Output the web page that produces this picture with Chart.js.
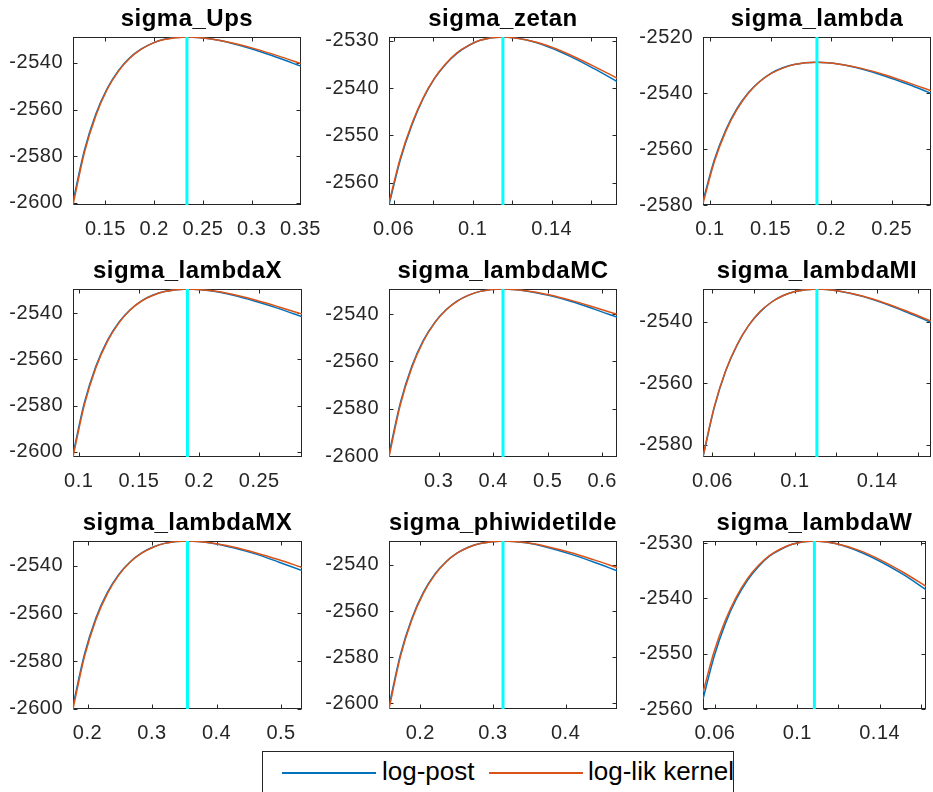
<!DOCTYPE html>
<html>
<head>
<meta charset="utf-8">
<script src="https://cdn.jsdelivr.net/npm/chart.js@4.4.1/dist/chart.umd.min.js"></script>
<style>
html, body { margin: 0; padding: 0; background: #ffffff; width: 933px; height: 792px; overflow: hidden; position: relative; }
canvas { position: absolute; }
#legend { position: absolute; left: 262px; top: 751px; width: 472px; height: 60px; border: 1px solid #262626; box-sizing: border-box; background: #ffffff; }
#legend .ln { position: absolute; height: 1.5px; top: 20px; }
#legend .tx { position: absolute; top: 6px; font-family: 'Liberation Sans', Arial, sans-serif; font-size: 26px; line-height: 26px; color: #000; white-space: nowrap; }
</style>
</head>
<body>
<div id="legend">
  <div class="ln" style="left:19px;width:94px;background:#0072BD"></div>
  <div class="tx" style="left:119px">log-post</div>
  <div class="ln" style="left:226px;width:94px;background:#D95319"></div>
  <div class="tx" style="left:325px">log-lik kernel</div>
</div>
<script>
// ---------------- data ----------------
const titles = ['sigma_Ups', 'sigma_zetan', 'sigma_lambda', 'sigma_lambdaX', 'sigma_lambdaMC', 'sigma_lambdaMI', 'sigma_lambdaMX', 'sigma_phiwidetilde', 'sigma_lambdaW'];
const modes = [0.2336, 0.1153, 0.1883, 0.1903, 0.418, 0.1107, 0.355, 0.3138, 0.1083];
const yMins = [-2600.9, -2564.7, -2580, -2602.3, -2600.4, -2583.9, -2600.1, -2602.5, -2560];
const yMaxs = [-2528.9, -2529.2, -2520, -2529.5, -2529.4, -2529.4, -2529.6, -2529.6, -2529.6];

const xUps   = [0.1168, 0.1285, 0.1402, 0.1518, 0.1635, 0.1752, 0.1869, 0.1986, 0.2102, 0.2336, 0.2570, 0.2803, 0.3037, 0.3270, 0.3504];
const postUps = [-2599.4, -2577.4, -2561.9, -2551.0, -2543.2, -2537.7, -2534.0, -2531.5, -2529.9, -2528.9, -2529.7, -2531.7, -2534.5, -2537.8, -2541.4];
const likUps  = [-2600.9, -2578.4, -2562.6, -2551.4, -2543.5, -2537.9, -2534.1, -2531.5, -2530.0, -2528.9, -2529.6, -2531.5, -2534.0, -2537.0, -2540.3];

const xZetan   = [0.0577, 0.0634, 0.0692, 0.0749, 0.0807, 0.0865, 0.0922, 0.0980, 0.1038, 0.1153, 0.1268, 0.1384, 0.1499, 0.1614, 0.1730];
const postZetan = [-2564.7, -2555.2, -2547.9, -2542.3, -2538.0, -2534.9, -2532.6, -2531.0, -2529.9, -2529.2, -2529.8, -2531.3, -2533.4, -2535.9, -2538.6];
const likZetan  = [-2564.2, -2554.8, -2547.6, -2542.1, -2537.9, -2534.8, -2532.5, -2531.0, -2529.9, -2529.2, -2529.8, -2531.1, -2533.1, -2535.4, -2537.9];

const xLambda   = [0.0942, 0.1036, 0.1130, 0.1224, 0.1318, 0.1412, 0.1506, 0.1601, 0.1695, 0.1883, 0.2071, 0.2260, 0.2448, 0.2636, 0.2825];
const postLambda = [-2578.5, -2563.8, -2553.2, -2545.4, -2539.8, -2535.8, -2532.9, -2531.0, -2529.8, -2529.0, -2529.7, -2531.5, -2534.0, -2536.9, -2540.1];
const likLambda  = [-2579.5, -2564.5, -2553.7, -2545.8, -2540.0, -2535.9, -2533.0, -2531.1, -2529.8, -2529.0, -2529.7, -2531.3, -2533.6, -2536.3, -2539.2];

const xLambdaX   = [0.0952, 0.1047, 0.1142, 0.1237, 0.1332, 0.1427, 0.1522, 0.1618, 0.1713, 0.1903, 0.2093, 0.2284, 0.2474, 0.2664, 0.2855];
const postLambdaX = [-2601.0, -2578.7, -2563.0, -2551.9, -2544.0, -2538.5, -2534.6, -2532.1, -2530.6, -2529.5, -2530.3, -2532.2, -2534.9, -2538.0, -2541.5];
const likLambdaX  = [-2602.3, -2579.6, -2563.6, -2552.3, -2544.3, -2538.6, -2534.7, -2532.2, -2530.6, -2529.5, -2530.2, -2531.9, -2534.4, -2537.3, -2540.4];

const xLambdaMC   = [0.2090, 0.2299, 0.2508, 0.2717, 0.2926, 0.3135, 0.3344, 0.3553, 0.3762, 0.4180, 0.4598, 0.5016, 0.5434, 0.5852, 0.6270];
const postLambdaMC = [-2599.2, -2577.4, -2562.1, -2551.2, -2543.6, -2538.2, -2534.4, -2532.0, -2530.4, -2529.4, -2530.2, -2532.1, -2534.7, -2537.9, -2541.3];
const likLambdaMC  = [-2600.4, -2578.2, -2562.7, -2551.6, -2543.8, -2538.3, -2534.5, -2532.0, -2530.4, -2529.4, -2530.1, -2531.8, -2534.2, -2537.1, -2540.1];

const xLambdaMI   = [0.0554, 0.0609, 0.0664, 0.0720, 0.0775, 0.0830, 0.0886, 0.0941, 0.0996, 0.1107, 0.1218, 0.1328, 0.1439, 0.1550, 0.1661];
const postLambdaMI = [-2583.9, -2567.8, -2556.0, -2547.5, -2541.3, -2536.9, -2533.7, -2531.6, -2530.3, -2529.4, -2530.1, -2531.8, -2534.2, -2537.1, -2540.2];
const likLambdaMI  = [-2583.6, -2567.5, -2555.9, -2547.4, -2541.3, -2536.8, -2533.7, -2531.6, -2530.3, -2529.4, -2530.1, -2531.7, -2534.0, -2536.8, -2539.8];

const xLambdaMX   = [0.1775, 0.1953, 0.2130, 0.2308, 0.2485, 0.2663, 0.2840, 0.3018, 0.3195, 0.3550, 0.3905, 0.4260, 0.4615, 0.4970, 0.5325];
const postLambdaMX = [-2598.6, -2577.1, -2561.9, -2551.2, -2543.6, -2538.3, -2534.6, -2532.1, -2530.6, -2529.6, -2530.4, -2532.4, -2535.1, -2538.5, -2542.0];
const likLambdaMX  = [-2600.1, -2578.1, -2562.6, -2551.7, -2543.9, -2538.4, -2534.7, -2532.2, -2530.6, -2529.6, -2530.3, -2532.1, -2534.6, -2537.5, -2540.7];

const xPhi   = [0.1569, 0.1726, 0.1883, 0.2040, 0.2197, 0.2354, 0.2510, 0.2667, 0.2824, 0.3138, 0.3452, 0.3766, 0.4079, 0.4393, 0.4707];
const postPhi = [-2601.2, -2578.9, -2563.2, -2552.0, -2544.1, -2538.6, -2534.8, -2532.2, -2530.7, -2529.6, -2530.4, -2532.5, -2535.4, -2538.8, -2542.5];
const likPhi  = [-2602.5, -2579.8, -2563.8, -2552.4, -2544.4, -2538.7, -2534.8, -2532.3, -2530.7, -2529.6, -2530.3, -2532.2, -2534.7, -2537.8, -2541.1];

const xLambdaW   = [0.0542, 0.0596, 0.0650, 0.0704, 0.0758, 0.0812, 0.0866, 0.0921, 0.0975, 0.1083, 0.1191, 0.1300, 0.1408, 0.1516, 0.1625];
const postLambdaW = [-2558.2, -2550.5, -2544.6, -2540.1, -2536.7, -2534.2, -2532.3, -2531.1, -2530.2, -2529.6, -2530.1, -2531.5, -2533.4, -2535.7, -2538.4];
const likLambdaW  = [-2557.0, -2549.6, -2544.0, -2539.7, -2536.4, -2534.0, -2532.2, -2531.0, -2530.2, -2529.6, -2530.1, -2531.3, -2533.1, -2535.3, -2537.8];

// tick marks and tick labels
const xTicksAll = [
  [0.15, 0.2, 0.25, 0.3, 0.35],
  [0.06, 0.08, 0.1, 0.12, 0.14, 0.16],
  [0.1, 0.15, 0.2, 0.25],
  [0.1, 0.15, 0.2, 0.25],
  [0.3, 0.4, 0.5, 0.6],
  [0.06, 0.08, 0.1, 0.12, 0.14, 0.16],
  [0.2, 0.3, 0.4, 0.5],
  [0.2, 0.3, 0.4],
  [0.06, 0.08, 0.1, 0.12, 0.14, 0.16]
];
const xTickLabels = [
  [0.15, 0.2, 0.25, 0.3, 0.35],
  [0.06, 0.1, 0.14],
  [0.1, 0.15, 0.2, 0.25],
  [0.1, 0.15, 0.2, 0.25],
  [0.3, 0.4, 0.5, 0.6],
  [0.06, 0.1, 0.14],
  [0.2, 0.3, 0.4, 0.5],
  [0.2, 0.3, 0.4],
  [0.06, 0.1, 0.14]
];
const yTicksAll = [
  [-2600, -2580, -2560, -2540],
  [-2560, -2550, -2540, -2530],
  [-2580, -2560, -2540, -2520],
  [-2600, -2580, -2560, -2540],
  [-2600, -2580, -2560, -2540],
  [-2580, -2560, -2540],
  [-2600, -2580, -2560, -2540],
  [-2600, -2580, -2560, -2540],
  [-2560, -2550, -2540, -2530]
];

const xs = [xUps, xZetan, xLambda, xLambdaX, xLambdaMC, xLambdaMI, xLambdaMX, xPhi, xLambdaW];
const posts = [postUps, postZetan, postLambda, postLambdaX, postLambdaMC, postLambdaMI, postLambdaMX, postPhi, postLambdaW];
const liks = [likUps, likZetan, likLambda, likLambdaX, likLambdaMC, likLambdaMI, likLambdaMX, likPhi, likLambdaW];

// ---------------- layout ----------------
const plotLeft = [73, 389, 703];
const plotW = [229, 228, 228];
const plotTop = [37, 289, 541];
const plotH = 168;
const Y_AXIS_W = 73, TITLE_H = 37, X_AXIS_H = 40, TICK = 4;
const FONT = "'Liberation Sans', Arial, Helvetica, sans-serif";
const AX = '#262626';

const spacingPlugin = { id: 'spacing', beforeDraw(chart) { chart.ctx.letterSpacing = '0.5px'; } };
const framePlugin = {
  id: 'frame',
  beforeDatasetsDraw(chart) {
    const ctx = chart.ctx, a = chart.chartArea, xs_ = chart.scales.x, ys_ = chart.scales.y;
    ctx.save();
    ctx.strokeStyle = AX; ctx.lineWidth = 1;
    const L = Math.round(a.left) + 0.5, R = Math.round(a.right) - 0.5, T = Math.round(a.top) + 0.5, B = Math.round(a.bottom) - 0.5;
    ctx.strokeRect(L, T, R - L, B - T);
    ctx.beginPath();
    xs_.ticks.forEach(t => {
      const px = Math.round(xs_.getPixelForValue(t.value)) + 0.5;
      ctx.moveTo(px, B); ctx.lineTo(px, B - TICK);
      ctx.moveTo(px, T); ctx.lineTo(px, T + TICK);
    });
    ys_.ticks.forEach(t => {
      const py = Math.round(ys_.getPixelForValue(t.value)) + 0.5;
      ctx.moveTo(L, py); ctx.lineTo(L + TICK, py);
      ctx.moveTo(R, py); ctx.lineTo(R - TICK, py);
    });
    ctx.stroke();
    ctx.restore();
  }
};

function makePanel(i) {
  const col = i % 3, row = Math.floor(i / 3);
  const padR = col === 2 ? 2 : 30;
  const cw = Y_AXIS_W + plotW[col] + padR, ch = TITLE_H + plotH + X_AXIS_H;
  const cv = document.createElement('canvas');
  cv.width = cw; cv.height = ch;
  cv.style.width = cw + 'px'; cv.style.height = ch + 'px';
  cv.style.left = (plotLeft[col] - Y_AXIS_W) + 'px';
  cv.style.top = (plotTop[row] - TITLE_H) + 'px';
  document.body.appendChild(cv);
  const x = xs[i], post = posts[i], lik = liks[i];
  const xT = xTicksAll[i], xL = xTickLabels[i], yT = yTicksAll[i];
  new Chart(cv, {
    type: 'line',
    data: {
      datasets: [
        { label: 'mode', data: [{ x: modes[i], y: yMins[i] }, { x: modes[i], y: yMaxs[i] }],
          borderColor: '#00FFFF', borderWidth: 3, pointRadius: 0, order: 0 },
        { label: 'log-lik kernel', data: x.map((v, j) => ({ x: v, y: lik[j] })),
          borderColor: '#D95319', borderWidth: 1.5, pointRadius: 0, cubicInterpolationMode: 'monotone', order: 1 },
        { label: 'log-post', data: x.map((v, j) => ({ x: v, y: post[j] })),
          borderColor: '#0072BD', borderWidth: 1.5, pointRadius: 0, cubicInterpolationMode: 'monotone', order: 2 }
      ]
    },
    options: {
      responsive: false, animation: false, devicePixelRatio: 1,
      layout: { padding: { left: 0, right: padR, top: 0, bottom: 0 } },
      plugins: {
        legend: { display: false }, tooltip: { enabled: false },
        title: { display: true, text: titles[i], color: '#000000', fullSize: false,
                 font: { family: FONT, size: 24, weight: 'bold', lineHeight: 1.2 },
                 padding: { top: 4.8, bottom: 3.4 } }
      },
      scales: {
        x: { type: 'linear', min: x[0], max: x[x.length - 1],
             grid: { display: false, drawTicks: false }, border: { display: false },
             afterBuildTicks: s => { s.ticks = xT.map(v => ({ value: v })); },
             afterFit: s => { s.height = X_AXIS_H; },
             ticks: { autoSkip: false, maxRotation: 0, minRotation: 0, padding: 12, color: AX,
                      font: { family: FONT, size: 20 },
                      callback: v => (xL.includes(v) ? String(v) : '') } },
        y: { type: 'linear', min: yMins[i], max: yMaxs[i],
             grid: { display: false, drawTicks: false }, border: { display: false },
             afterBuildTicks: s => { s.ticks = yT.map(v => ({ value: v })); },
             afterFit: s => { s.width = Y_AXIS_W; },
             ticks: { autoSkip: false, padding: 10, color: AX,
                      font: { family: FONT, size: 20 },
                      callback: v => String(v) } }
      }
    },
    plugins: [spacingPlugin, framePlugin]
  });
}
for (let i = 0; i < 9; i++) makePanel(i);
</script>
</body>
</html>
